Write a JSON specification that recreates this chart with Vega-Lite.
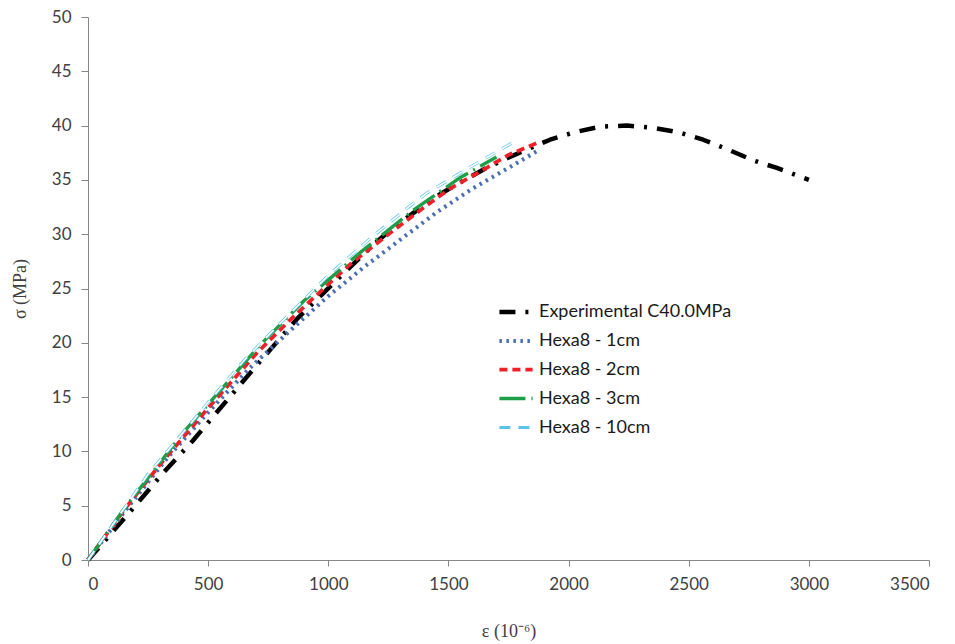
{
  "$schema": "https://vega.github.io/schema/vega-lite/v6.json",
  "width": 841,
  "height": 543,
  "autosize": "none",
  "padding": {"left": 88, "top": 17, "right": 26, "bottom": 84},
  "background": "white",
  "config": {
    "view": {"stroke": null},
    "axis": {
      "grid": false,
      "domainColor": "#868686",
      "tickColor": "#868686",
      "labelColor": "#404040",
      "labelFont": "Lato",
      "labelFontSize": 17,
      "titleFont": "Liberation Serif",
      "titleFontWeight": "normal",
      "titleFontSize": 18,
      "titleColor": "#404040"
    }
  },
  "data": {
    "values": [
      {"series": "Experimental C40.0MPa", "eps": 0, "sigma": 0},
      {"series": "Experimental C40.0MPa", "eps": 158, "sigma": 4.0},
      {"series": "Experimental C40.0MPa", "eps": 312, "sigma": 8.0},
      {"series": "Experimental C40.0MPa", "eps": 437, "sigma": 11.0},
      {"series": "Experimental C40.0MPa", "eps": 578, "sigma": 14.7},
      {"series": "Experimental C40.0MPa", "eps": 728, "sigma": 18.6},
      {"series": "Experimental C40.0MPa", "eps": 870, "sigma": 22.2},
      {"series": "Experimental C40.0MPa", "eps": 1036, "sigma": 25.8},
      {"series": "Experimental C40.0MPa", "eps": 1186, "sigma": 29.0},
      {"series": "Experimental C40.0MPa", "eps": 1265, "sigma": 30.5},
      {"series": "Experimental C40.0MPa", "eps": 1436, "sigma": 33.3},
      {"series": "Experimental C40.0MPa", "eps": 1536, "sigma": 34.6},
      {"series": "Experimental C40.0MPa", "eps": 1650, "sigma": 36.0},
      {"series": "Experimental C40.0MPa", "eps": 1744, "sigma": 37.0},
      {"series": "Experimental C40.0MPa", "eps": 1827, "sigma": 37.8},
      {"series": "Experimental C40.0MPa", "eps": 1923, "sigma": 38.7},
      {"series": "Experimental C40.0MPa", "eps": 2026, "sigma": 39.4},
      {"series": "Experimental C40.0MPa", "eps": 2130, "sigma": 39.9},
      {"series": "Experimental C40.0MPa", "eps": 2243, "sigma": 40.0},
      {"series": "Experimental C40.0MPa", "eps": 2351, "sigma": 39.8},
      {"series": "Experimental C40.0MPa", "eps": 2456, "sigma": 39.4},
      {"series": "Experimental C40.0MPa", "eps": 2560, "sigma": 38.7},
      {"series": "Experimental C40.0MPa", "eps": 2663, "sigma": 37.8},
      {"series": "Experimental C40.0MPa", "eps": 2768, "sigma": 36.8},
      {"series": "Experimental C40.0MPa", "eps": 2867, "sigma": 36.1},
      {"series": "Experimental C40.0MPa", "eps": 3000, "sigma": 35.0},

      {"series": "Hexa8 - 1cm", "eps": 0, "sigma": 0},
      {"series": "Hexa8 - 1cm", "eps": 150, "sigma": 4.4},
      {"series": "Hexa8 - 1cm", "eps": 330, "sigma": 9.4},
      {"series": "Hexa8 - 1cm", "eps": 500, "sigma": 13.6},
      {"series": "Hexa8 - 1cm", "eps": 670, "sigma": 17.6},
      {"series": "Hexa8 - 1cm", "eps": 850, "sigma": 21.3},
      {"series": "Hexa8 - 1cm", "eps": 1000, "sigma": 24.3},
      {"series": "Hexa8 - 1cm", "eps": 1150, "sigma": 27.0},
      {"series": "Hexa8 - 1cm", "eps": 1300, "sigma": 29.5},
      {"series": "Hexa8 - 1cm", "eps": 1450, "sigma": 32.0},
      {"series": "Hexa8 - 1cm", "eps": 1600, "sigma": 34.2},
      {"series": "Hexa8 - 1cm", "eps": 1750, "sigma": 36.1},
      {"series": "Hexa8 - 1cm", "eps": 1880, "sigma": 37.8},

      {"series": "Hexa8 - 2cm", "eps": 0, "sigma": 0},
      {"series": "Hexa8 - 2cm", "eps": 150, "sigma": 4.6},
      {"series": "Hexa8 - 2cm", "eps": 300, "sigma": 8.8},
      {"series": "Hexa8 - 2cm", "eps": 500, "sigma": 14.0},
      {"series": "Hexa8 - 2cm", "eps": 700, "sigma": 19.0},
      {"series": "Hexa8 - 2cm", "eps": 850, "sigma": 22.3},
      {"series": "Hexa8 - 2cm", "eps": 1000, "sigma": 25.4},
      {"series": "Hexa8 - 2cm", "eps": 1100, "sigma": 27.4},
      {"series": "Hexa8 - 2cm", "eps": 1257, "sigma": 30.1},
      {"series": "Hexa8 - 2cm", "eps": 1400, "sigma": 32.5},
      {"series": "Hexa8 - 2cm", "eps": 1507, "sigma": 34.2},
      {"series": "Hexa8 - 2cm", "eps": 1650, "sigma": 36.0},
      {"series": "Hexa8 - 2cm", "eps": 1750, "sigma": 37.3},
      {"series": "Hexa8 - 2cm", "eps": 1880, "sigma": 38.5},

      {"series": "Hexa8 - 3cm", "eps": 0, "sigma": 0},
      {"series": "Hexa8 - 3cm", "eps": 150, "sigma": 4.7},
      {"series": "Hexa8 - 3cm", "eps": 395, "sigma": 11.7},
      {"series": "Hexa8 - 3cm", "eps": 550, "sigma": 15.6},
      {"series": "Hexa8 - 3cm", "eps": 716, "sigma": 19.8},
      {"series": "Hexa8 - 3cm", "eps": 900, "sigma": 23.9},
      {"series": "Hexa8 - 3cm", "eps": 1132, "sigma": 28.3},
      {"series": "Hexa8 - 3cm", "eps": 1353, "sigma": 32.2},
      {"series": "Hexa8 - 3cm", "eps": 1411, "sigma": 33.1},
      {"series": "Hexa8 - 3cm", "eps": 1548, "sigma": 35.2},
      {"series": "Hexa8 - 3cm", "eps": 1700, "sigma": 37.1},

      {"series": "Hexa8 - 10cm", "eps": 0, "sigma": 0},
      {"series": "Hexa8 - 10cm", "eps": 250, "sigma": 7.9},
      {"series": "Hexa8 - 10cm", "eps": 500, "sigma": 14.5},
      {"series": "Hexa8 - 10cm", "eps": 650, "sigma": 18.4},
      {"series": "Hexa8 - 10cm", "eps": 800, "sigma": 21.8},
      {"series": "Hexa8 - 10cm", "eps": 1000, "sigma": 26.2},
      {"series": "Hexa8 - 10cm", "eps": 1174, "sigma": 29.6},
      {"series": "Hexa8 - 10cm", "eps": 1340, "sigma": 32.6},
      {"series": "Hexa8 - 10cm", "eps": 1411, "sigma": 33.8},
      {"series": "Hexa8 - 10cm", "eps": 1494, "sigma": 34.9},
      {"series": "Hexa8 - 10cm", "eps": 1600, "sigma": 36.3},
      {"series": "Hexa8 - 10cm", "eps": 1765, "sigma": 38.4}
    ]
  },
  "layer": [
    {
      "mark": {"type": "line", "strokeCap": "butt", "strokeJoin": "round"},
      "encoding": {
        "x": {
          "field": "eps", "type": "quantitative",
          "scale": {"domain": [0, 3500], "nice": false},
          "axis": {"values": [0, 500, 1000, 1500, 2000, 2500, 3000, 3500], "format": "d", "tickSize": 6, "labelPadding": 10, "title": "ε (10⁻⁶)", "titlePadding": 30}
        },
        "y": {
          "field": "sigma", "type": "quantitative",
          "scale": {"domain": [0, 50], "nice": false},
          "axis": {"values": [0, 5, 10, 15, 20, 25, 30, 35, 40, 45, 50], "tickSize": 7, "labelPadding": 10, "title": "σ (MPa)", "titlePadding": 22}
        },
        "color": {
          "field": "series", "type": "nominal",
          "scale": {
            "domain": ["Experimental C40.0MPa", "Hexa8 - 1cm", "Hexa8 - 2cm", "Hexa8 - 3cm", "Hexa8 - 10cm"],
            "range": ["#000000", "#4a6fb5", "#f0202a", "#1e9e48", "#5cc3e6"]
          },
          "legend": {
            "title": null,
            "orient": "none",
            "legendX": 409,
            "legendY": 276,
            "symbolType": "stroke",
            "symbolSize": 1100,
            "labelFont": "Lato",
            "labelFontSize": 18,
            "labelColor": "#1a1a1a",
            "labelOffset": 4,
            "labelLimit": 400,
            "rowPadding": 1
          }
        },
        "strokeDash": {
          "field": "series", "type": "nominal",
          "scale": {
            "domain": ["Experimental C40.0MPa", "Hexa8 - 1cm", "Hexa8 - 2cm", "Hexa8 - 3cm", "Hexa8 - 10cm"],
            "range": [[16, 10, 3, 10], [2.5, 4.5], [8, 5], [26, 6, 2, 6], [11, 8]]
          },
          "legend": null
        },
        "strokeWidth": {
          "field": "series", "type": "nominal",
          "scale": {
            "domain": ["Experimental C40.0MPa", "Hexa8 - 1cm", "Hexa8 - 2cm", "Hexa8 - 3cm", "Hexa8 - 10cm"],
            "range": [4.5, 3, 2.5, 3.5, 5]
          },
          "legend": null
        }
      }
    },
    {
      "transform": [{"filter": "datum.series === 'Hexa8 - 10cm'"}],
      "mark": {"type": "line", "color": "white", "strokeWidth": 1.6, "strokeDash": [11, 8], "strokeCap": "butt"},
      "encoding": {
        "x": {"field": "eps", "type": "quantitative"},
        "y": {"field": "sigma", "type": "quantitative"}
      }
    }
  ]
}
